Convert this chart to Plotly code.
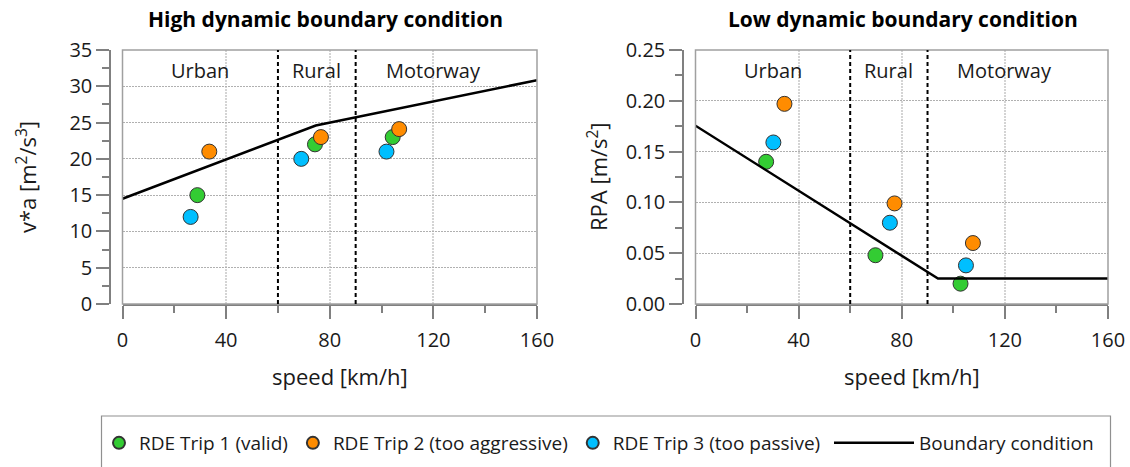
import plotly.graph_objects as go

# ---------------- data ----------------
trip_names = ["RDE Trip 1 (valid)", "RDE Trip 2 (too aggressive)", "RDE Trip 3 (too passive)"]
trip_colors = ["#33cc33", "#ff8c00", "#00bfff"]

# High dynamic: v*a [m^2/s^3] per zone (urban, rural, motorway)
high_speed_trip1 = [28.9, 74.3, 104.3]
high_va_trip1 = [15.0, 22.0, 23.0]
high_speed_trip2 = [33.5, 76.6, 106.8]
high_va_trip2 = [21.0, 23.0, 24.1]
high_speed_trip3 = [26.3, 69.0, 101.9]
high_va_trip3 = [12.0, 20.0, 21.0]

# Low dynamic: RPA [m/s^2] per zone
low_speed_trip1 = [27.4, 69.8, 102.8]
low_rpa_trip1 = [0.140, 0.048, 0.020]
low_speed_trip2 = [34.5, 77.2, 107.6]
low_rpa_trip2 = [0.197, 0.099, 0.060]
low_speed_trip3 = [30.2, 75.4, 104.9]
low_rpa_trip3 = [0.159, 0.080, 0.038]

# Boundary conditions
high_boundary_speed = [0, 74.6, 160]
high_boundary_va = [14.5, 24.59, 30.84]
low_boundary_speed = [0, 94.05, 160]
low_boundary_rpa = [0.1755, 0.025, 0.025]

zone_limits = [60, 90]
zone_names = ["Urban", "Rural", "Motorway"]
zone_centers = [30, 75, 120]

x_ticks = [0, 40, 80, 120, 160]
high_y_ticks = [0, 5, 10, 15, 20, 25, 30, 35]
low_y_ticks = [0.00, 0.05, 0.10, 0.15, 0.20, 0.25]

# ---------------- figure ----------------
W, H = 1130, 467
FONT = "Open Sans, Noto Sans, DejaVu Sans, sans-serif"
AXC = "#808080"
TXT = "#1a1a1a"

def px(x):
    return x / W

def py(y):
    return 1 - y / H

fig = go.Figure()

high_sets = [(high_speed_trip1, high_va_trip1), (high_speed_trip2, high_va_trip2), (high_speed_trip3, high_va_trip3)]
low_sets = [(low_speed_trip1, low_rpa_trip1), (low_speed_trip2, low_rpa_trip2), (low_speed_trip3, low_rpa_trip3)]

for i, (sx, sy) in enumerate(high_sets):
    fig.add_trace(go.Scatter(x=sx, y=sy, mode="markers", name=trip_names[i],
                             marker=dict(size=15, color=trip_colors[i], line=dict(color="#333333", width=1)),
                             xaxis="x", yaxis="y", showlegend=True, legend="legend"))
for i, (sx, sy) in enumerate(low_sets):
    fig.add_trace(go.Scatter(x=sx, y=sy, mode="markers", name=trip_names[i],
                             marker=dict(size=15, color=trip_colors[i], line=dict(color="#333333", width=1)),
                             xaxis="x2", yaxis="y2", showlegend=False))

fig.add_trace(go.Scatter(x=high_boundary_speed, y=high_boundary_va, mode="lines", name="Boundary condition",
                         line=dict(color="black", width=2.5), xaxis="x", yaxis="y",
                         showlegend=True, legend="legend2"))
fig.add_trace(go.Scatter(x=low_boundary_speed, y=low_boundary_rpa, mode="lines", name="Boundary condition",
                         line=dict(color="black", width=2.5), xaxis="x2", yaxis="y2", showlegend=False))

ydom = [py(304), py(50)]

def xaxis_cfg(dom, anchor):
    return dict(domain=dom, anchor=anchor, range=[0, 160], tickvals=x_ticks,
                ticks="outside", ticklen=13, tickwidth=1.5, tickcolor=AXC,
                showline=True, linecolor=AXC, linewidth=1.5,
                showgrid=True, gridcolor="#d4d4d4", gridwidth=1.5, griddash="2px,1px",
                zeroline=False, tickfont=dict(size=20, color=TXT, family=FONT),
                ticklabelstandoff=4,
                minor=dict(dtick=20, tick0=0, ticks="outside", ticklen=7, tickwidth=1.5,
                           tickcolor=AXC, showgrid=False),
                automargin=False, fixedrange=True)

def yaxis_cfg(rng, tickvals, pos, minor_dtick, fmt):
    return dict(domain=ydom, anchor="free", position=pos, range=rng, tickvals=tickvals,
                tickformat=fmt, ticks="outside", ticklen=13, tickwidth=1.5, tickcolor=AXC,
                showline=True, linecolor=AXC, linewidth=1.5,
                showgrid=True, gridcolor="#b0b0b0", gridwidth=1, griddash="2px,1px",
                zeroline=False, tickfont=dict(size=20, color=TXT, family=FONT),
                minor=dict(dtick=minor_dtick, tick0=0, ticks="outside", ticklen=7, tickwidth=1.5,
                           tickcolor=AXC, showgrid=False),
                automargin=False, fixedrange=True)

fig.update_layout(
    width=W, height=H,
    margin=dict(l=0, r=0, t=0, b=0, pad=0),
    paper_bgcolor="white", plot_bgcolor="white",
    font=dict(family=FONT, color=TXT),
    xaxis=xaxis_cfg([px(122.5), px(537)], "y"),
    yaxis=yaxis_cfg([0, 35], high_y_ticks, px(110), 2.5, "d"),
    xaxis2=xaxis_cfg([px(695.5), px(1108)], "y2"),
    yaxis2=yaxis_cfg([0, 0.25], low_y_ticks, px(683), 0.025, ".2f"),
    legend=dict(orientation="h", x=px(99), xanchor="left", y=py(443), yanchor="middle",
                font=dict(size=19, color=TXT, family=FONT), bgcolor="rgba(0,0,0,0)",
                borderwidth=0, itemsizing="constant", itemclick=False, itemdoubleclick=False),
    legend2=dict(orientation="h", x=px(829), xanchor="left", y=py(443), yanchor="middle",
                 font=dict(size=19, color=TXT, family=FONT), bgcolor="rgba(0,0,0,0)",
                 borderwidth=0, itemwidth=80, itemclick=False, itemdoubleclick=False),
    showlegend=True,
)

shapes = []
annotations = []
for xa, ya in [("x", "y"), ("x2", "y2")]:
    # plot frame
    shapes.append(dict(type="rect", xref=f"{xa} domain", yref=f"{ya} domain", x0=0, x1=1, y0=0, y1=1,
                       line=dict(color="#a0a0a0", width=1.5), layer="above"))
    for zl in zone_limits:
        shapes.append(dict(type="line", xref=xa, yref=f"{ya} domain", x0=zl, x1=zl, y0=0, y1=1,
                           line=dict(color="black", width=2, dash="4px,3px"), layer="above"))

# legend box
shapes.append(dict(type="rect", xref="paper", yref="paper", x0=px(101.5), x1=px(1110.5), y0=-0.2, y1=py(416),
                   line=dict(color="#909090", width=1.2), layer="above"))

for xa, ylab in [("x", 32.2), ("x2", 0.23)]:
    ya = "y" if xa == "x" else "y2"
    for name, c in zip(zone_names, zone_centers):
        annotations.append(dict(x=c, y=ylab, xref=xa, yref=ya, text=name, showarrow=False,
                                xanchor="center", yanchor="middle",
                                font=dict(size=20, color=TXT, family=FONT)))

annotations += [
    dict(x=px(325), y=py(19), xref="paper", yref="paper", text="<b>High dynamic boundary condition</b>",
         showarrow=False, font=dict(size=21, color="black", family=FONT), xanchor="center", yanchor="middle"),
    dict(x=px(903), y=py(19), xref="paper", yref="paper", text="<b>Low dynamic boundary condition</b>",
         showarrow=False, font=dict(size=21, color="black", family=FONT), xanchor="center", yanchor="middle"),
    dict(x=px(340), y=py(376), xref="paper", yref="paper", text="speed [km/h]",
         showarrow=False, font=dict(size=22, color=TXT, family=FONT), xanchor="center", yanchor="middle"),
    dict(x=px(912), y=py(376), xref="paper", yref="paper", text="speed [km/h]",
         showarrow=False, font=dict(size=22, color=TXT, family=FONT), xanchor="center", yanchor="middle"),
    dict(x=px(26), y=py(177), xref="paper", yref="paper", text="v*a [m<sup>2</sup>/s<sup>3</sup>]",
         showarrow=False, textangle=-90, font=dict(size=22, color=TXT, family=FONT),
         xanchor="center", yanchor="middle"),
    dict(x=px(597), y=py(177), xref="paper", yref="paper", text="RPA [m/s<sup>2</sup>]",
         showarrow=False, textangle=-90, font=dict(size=22, color=TXT, family=FONT),
         xanchor="center", yanchor="middle"),
]

fig.update_layout(shapes=shapes, annotations=annotations)
fig.write_html("out.html", config={"displayModeBar": False})
